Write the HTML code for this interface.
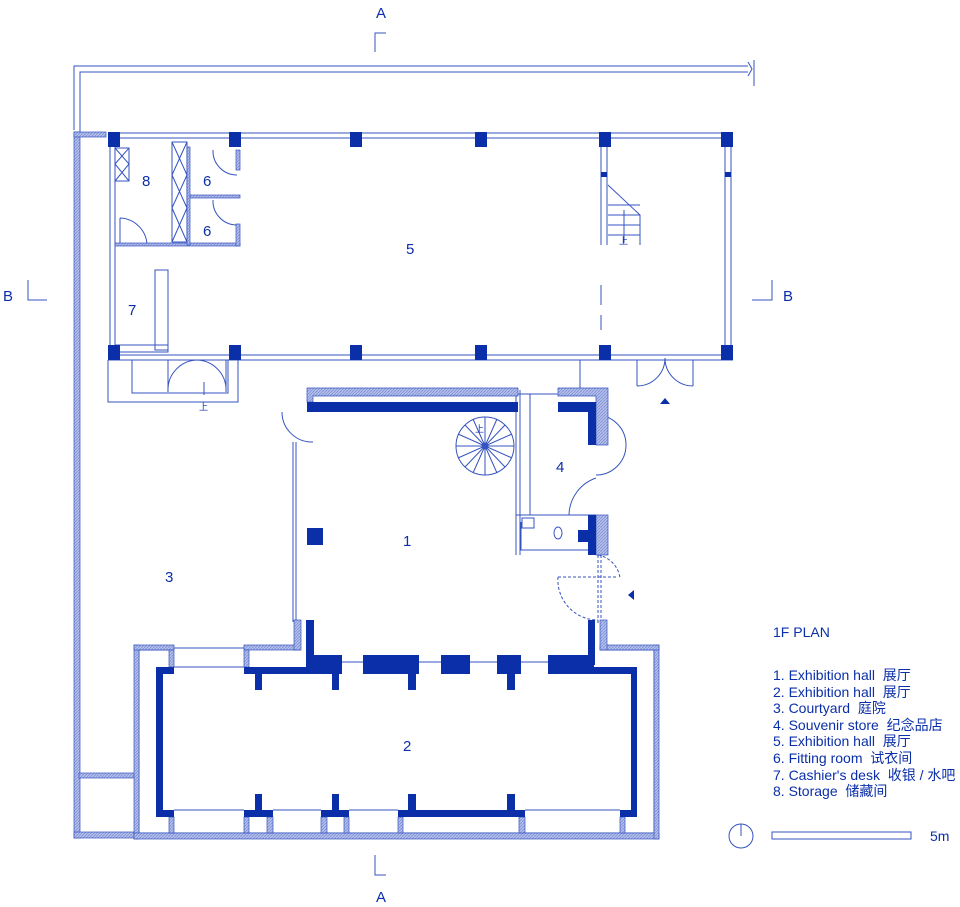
<html><head><style>body{margin:0;background:#fff}svg{display:block}</style></head><body>
<svg width="960" height="907" viewBox="0 0 960 907" xmlns="http://www.w3.org/2000/svg" font-family="Liberation Sans, Noto Sans CJK SC, sans-serif">
<defs><pattern id="h" width="3" height="3" patternUnits="userSpaceOnUse"><rect width="3" height="3" fill="#b4c0ea"/><path d="M0 3L3 0" stroke="#7d90d6" stroke-width="0.8"/></pattern></defs>
<g fill="none" stroke="#3553c0" stroke-width="1">
<path d="M74 130V66H748M80 132V72H748"/>
<path d="M748 62L752 69L748 76M754 60V86"/>
<path d="M108 133H733M108 138H733M108 355H733M108 360H733"/>
<path d="M110 147V345M115 147V345M601 147V245M607 147V245M725 147V345M731 147V345"/>
<path d="M601 285V305M601 315V330"/>
<rect x="115" y="148" width="14" height="33"/><path d="M115 148L129 164M129 148L115 164M115 164L129 181M129 164L115 181"/>
<rect x="172" y="142" width="15" height="100"/><path d="M172 142L187 175M187 142L172 175M172 175L187 208M187 175L172 208M172 208L187 242M187 208L172 242"/>
<path d="M120 218V245M120 218A28 28 0 0 1 147 245"/>
<path d="M213 150A24 24 0 0 0 237 175M213 200A24 24 0 0 0 237 225"/>
<rect x="155" y="270" width="13" height="80"/>
<path d="M115 345H168V352H115"/>
<path d="M108 360V402H238V360M132 360V393H228V360M168 360V392M226 360V392"/>
<path d="M168 392A30 30 0 0 1 197 360M226 392A30 30 0 0 0 197 360M204 395V382"/>
<path d="M637 360V386M693 360V386M637 386A28 28 0 0 0 665 358M693 386A28 28 0 0 1 665 358M580 360V388"/>
<path d="M608 185L640 215V245M608 205H640M608 215H640M608 225H640M608 235H640M624 210V243"/>
<path d="M293 442V622M296 442V622M282 412A30 30 0 0 0 313 442"/>
<circle cx="485" cy="446" r="29"/><circle cx="485" cy="446" r="3"/>
<path d="M456 446H514M485 417V475M465 425L505 467M505 425L465 467M458 434L512 458M512 434L458 458M473 419L497 473M497 419L473 473"/>
<path d="M516 390V555M520 390V555M530 394V515M516 394H558M516 515H596M521 522V550H596"/>
<path d="M596 415A28 28 0 1 1 596 475M596 478A40 40 0 0 0 569 515"/>
<rect x="522" y="518" width="12" height="10"/><ellipse cx="558" cy="533" rx="4" ry="6"/>
<path d="M598 555V625M601 555V625M558 577H616M558 577A40 40 0 0 0 598 620M598 555A27 27 0 0 1 620 578" stroke-dasharray="3 2"/>
<!-- hall 2 thin -->
<path d="M139 833V650H174M174 648H244M174 667H244M300 650H293M600 650H654V833M139 833H654"/>
<path d="M327 662H563M174 810H244M273 810H321M349 810H398M525 810H620"/>
<path d="M375 52V33H386M375 855V875H386M28 280V300H47M772 280V300H752"/>
<circle cx="741" cy="836" r="12"/><path d="M741 824V836"/>
<rect x="772" y="832" width="139" height="7"/>
</g>
<g fill="url(#h)" stroke="#3553c0" stroke-width="0.7">
<rect x="74" y="132" width="6" height="706"/><rect x="74" y="132" width="32" height="5"/>
<rect x="74" y="832" width="60" height="6"/><rect x="79" y="773" width="55" height="5"/>
<rect x="115" y="243" width="125" height="3"/><rect x="236" y="150" width="4" height="20"/><rect x="190" y="195" width="50" height="3"/><rect x="236" y="224" width="4" height="22"/><rect x="187" y="147" width="3" height="98"/>
<path d="M307 388H518V396H313V402H307Z"/>
<path d="M558 388H608V445H596V396H558Z"/>
<rect x="596" y="515" width="12" height="40"/>
<rect x="134" y="645" width="5" height="194"/><rect x="134" y="833" width="525" height="6"/><rect x="654" y="645" width="5" height="194"/>
<rect x="134" y="645" width="40" height="5"/><rect x="244" y="645" width="56" height="5"/><rect x="294" y="620" width="7" height="30"/>
<rect x="600" y="645" width="59" height="5"/><rect x="600" y="620" width="7" height="30"/>
<rect x="169" y="650" width="5" height="17"/><rect x="244" y="650" width="5" height="17"/>
<rect x="169" y="817" width="5" height="16"/><rect x="244" y="817" width="5" height="16"/><rect x="267" y="817" width="6" height="16"/><rect x="321" y="817" width="6" height="16"/><rect x="344" y="817" width="5" height="16"/><rect x="398" y="817" width="5" height="16"/><rect x="519" y="817" width="6" height="16"/><rect x="620" y="817" width="5" height="16"/>
</g>
<g fill="#0b2fa8">
<rect x="108" y="132" width="12" height="15"/><rect x="229" y="132" width="12" height="15"/><rect x="350" y="132" width="12" height="15"/><rect x="475" y="132" width="12" height="15"/><rect x="599" y="132" width="12" height="15"/><rect x="721" y="132" width="12" height="15"/>
<rect x="108" y="345" width="12" height="15"/><rect x="229" y="345" width="12" height="15"/><rect x="350" y="345" width="12" height="15"/><rect x="475" y="345" width="12" height="15"/><rect x="599" y="345" width="12" height="15"/><rect x="721" y="345" width="12" height="15"/>
<rect x="601" y="172" width="6" height="5"/><rect x="725" y="172" width="6" height="5"/>
<rect x="307" y="402" width="211" height="10"/>
<path d="M558 402H596V445H588V412H558Z"/><rect x="588" y="515" width="8" height="40"/><rect x="578" y="530" width="12" height="12"/>
<rect x="307" y="528" width="16" height="17"/>
<!-- hall1/hall2 dark -->
<rect x="306" y="620" width="8" height="40"/><rect x="306" y="655" width="36" height="19"/>
<rect x="363" y="655" width="56" height="19"/><rect x="441" y="655" width="29" height="19"/><rect x="497" y="655" width="24" height="19"/>
<rect x="548" y="655" width="46" height="19"/><rect x="588" y="620" width="7" height="45"/>
<rect x="244" y="667" width="98" height="7"/><rect x="156" y="667" width="18" height="7"/><rect x="156" y="667" width="7" height="150"/>
<rect x="548" y="667" width="89" height="7"/><rect x="631" y="667" width="6" height="150"/>
<rect x="156" y="810" width="18" height="7"/><rect x="244" y="810" width="29" height="7"/><rect x="321" y="810" width="28" height="7"/><rect x="398" y="810" width="127" height="7"/><rect x="620" y="810" width="17" height="7"/>
<rect x="255" y="674" width="7" height="16"/><rect x="332" y="674" width="7" height="16"/><rect x="408" y="674" width="8" height="16"/><rect x="507" y="674" width="8" height="16"/>
<rect x="255" y="794" width="7" height="16"/><rect x="332" y="794" width="7" height="16"/><rect x="408" y="794" width="8" height="16"/><rect x="507" y="794" width="8" height="16"/>
<path d="M665 398L660 404H670Z"/><path d="M628 595L634 590V600Z"/>
</g>
<g fill="#0b2fa8" font-size="15">
<text x="142" y="186">8</text><text x="203" y="186">6</text><text x="203" y="236">6</text><text x="406" y="254">5</text><text x="128" y="315">7</text><text x="403" y="546">1</text><text x="556" y="472">4</text><text x="165" y="582">3</text><text x="403" y="751">2</text>
<text x="376" y="18">A</text><text x="376" y="902">A</text><text x="3" y="301">B</text><text x="783" y="301">B</text>
</g>
<g fill="#0b2fa8" font-size="9"><text x="199" y="410">上</text><text x="619" y="244">上</text><text x="475" y="432">上</text></g>
<g fill="#0b2fa8" font-size="14">
<text x="773" y="637">1F PLAN</text>
<text x="773" y="680" xml:space="preserve">1. Exhibition hall  展厅</text>
<text x="773" y="697" xml:space="preserve">2. Exhibition hall  展厅</text>
<text x="773" y="713" xml:space="preserve">3. Courtyard  庭院</text>
<text x="773" y="730" xml:space="preserve">4. Souvenir store  纪念品店</text>
<text x="773" y="746" xml:space="preserve">5. Exhibition hall  展厅</text>
<text x="773" y="763" xml:space="preserve">6. Fitting room  试衣间</text>
<text x="773" y="780" xml:space="preserve">7. Cashier's desk  收银 / 水吧</text>
<text x="773" y="796" xml:space="preserve">8. Storage  储藏间</text>
<text x="930" y="841">5m</text>
</g>
</svg>
</body></html>
